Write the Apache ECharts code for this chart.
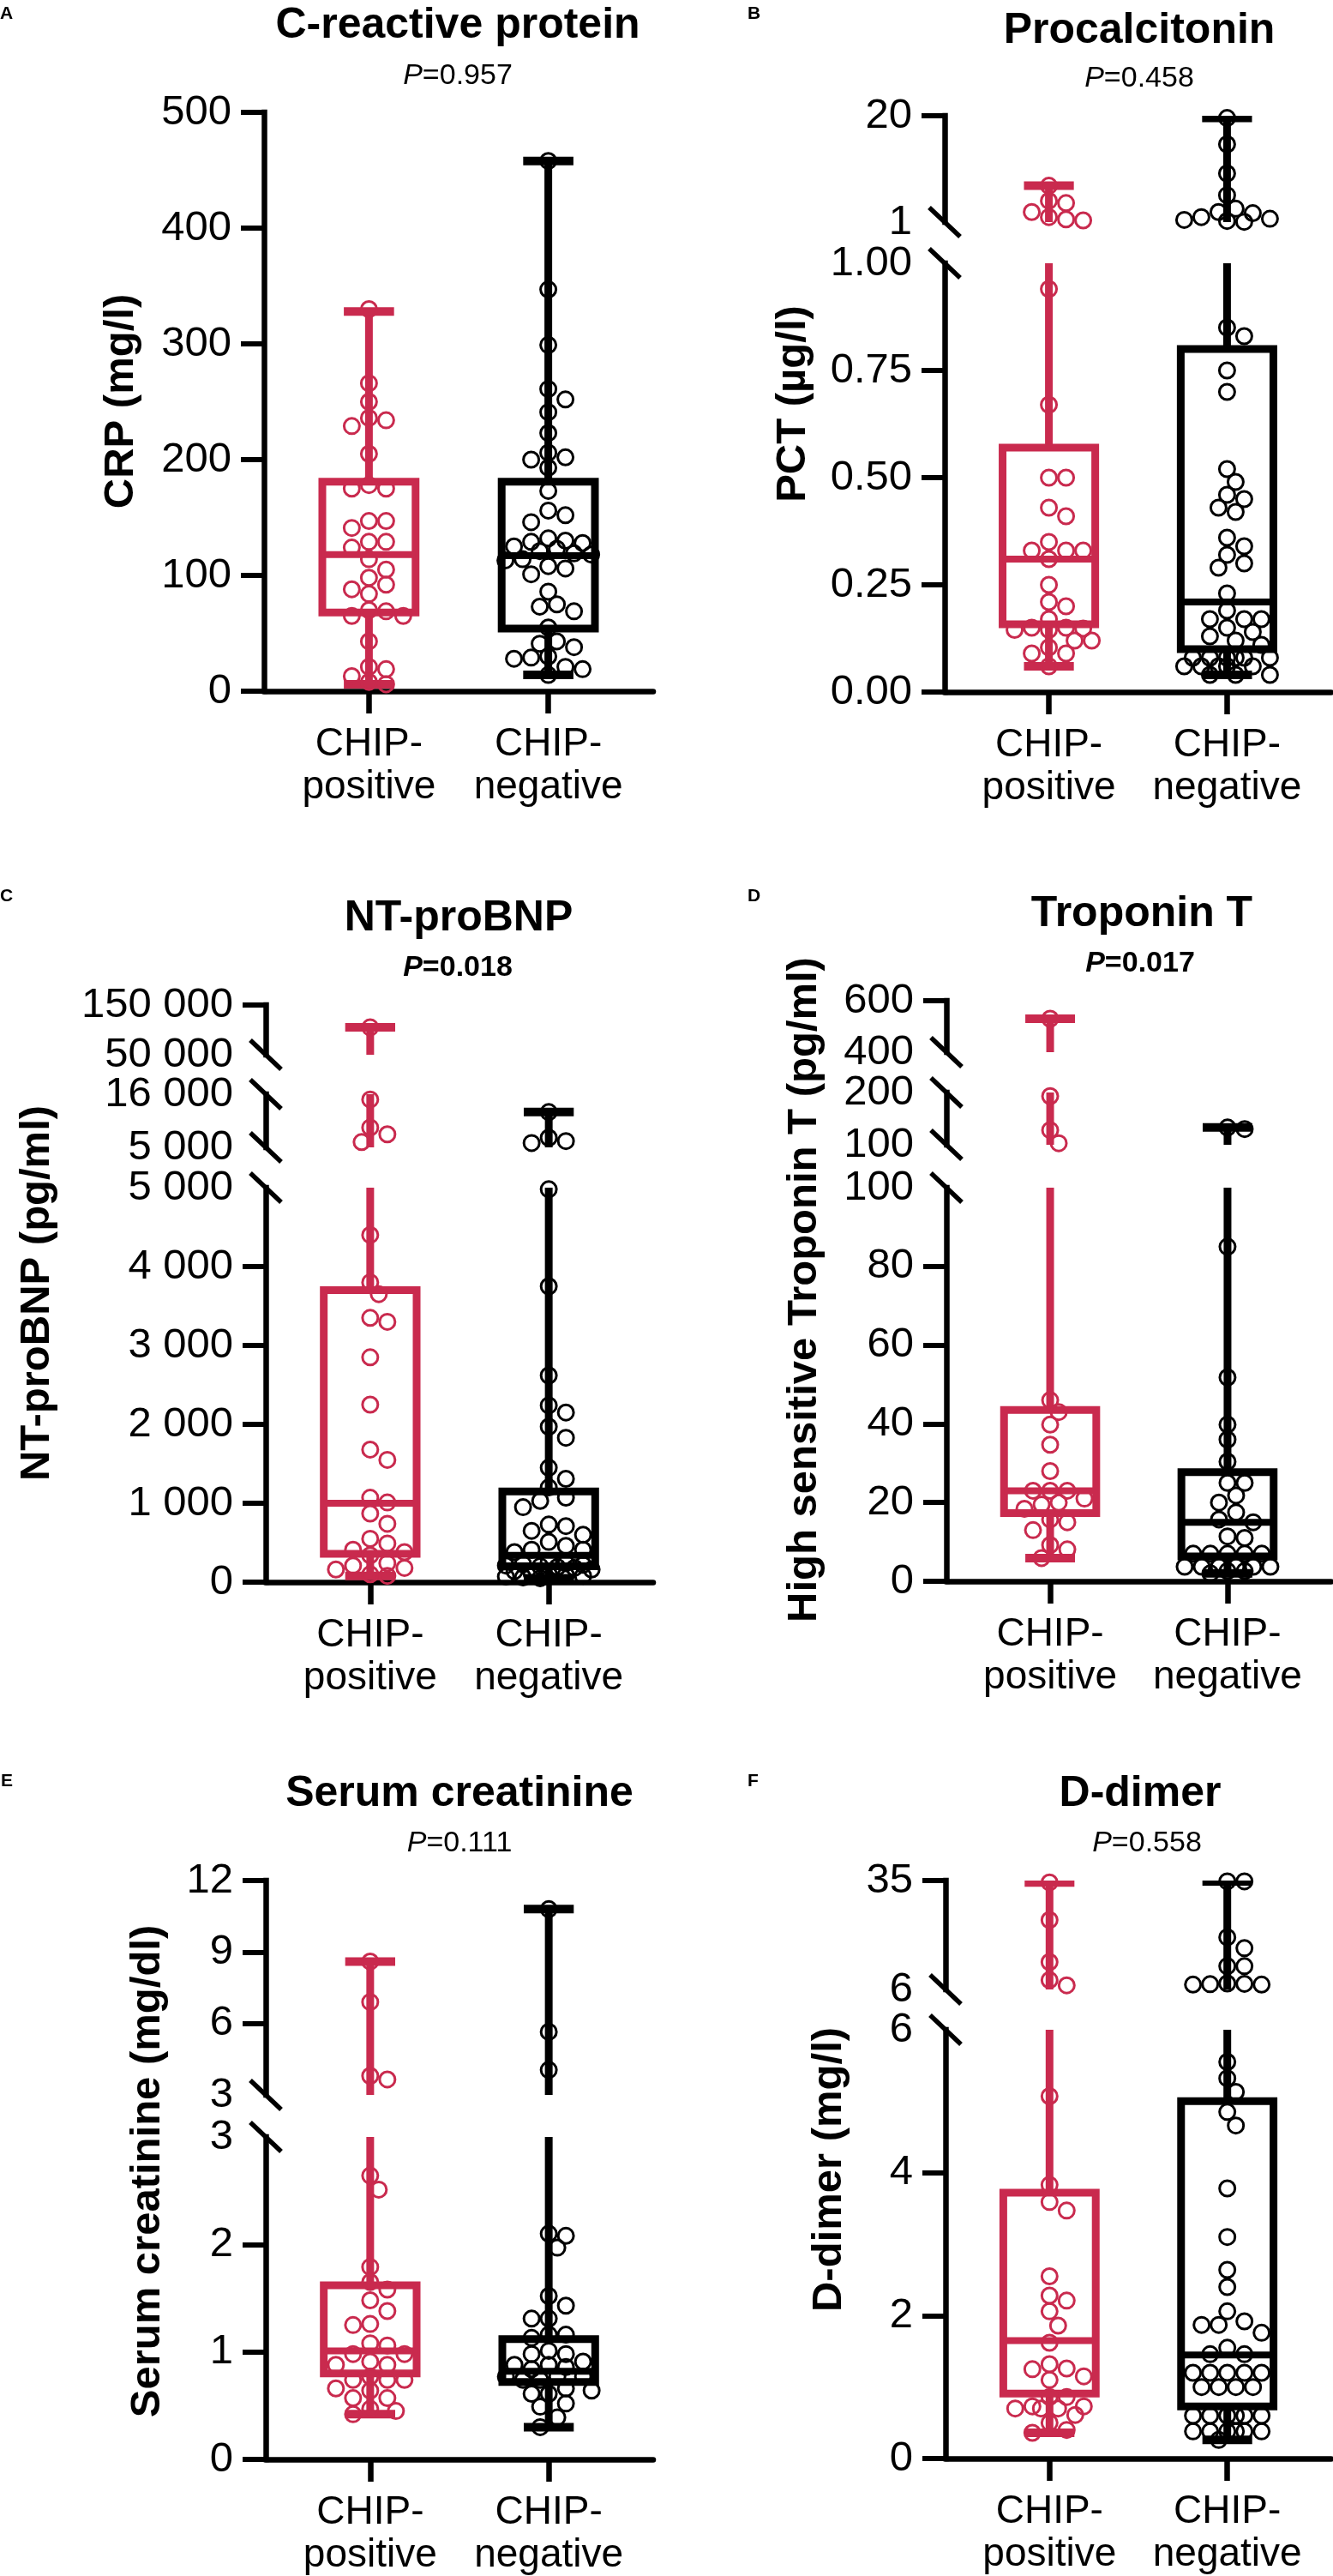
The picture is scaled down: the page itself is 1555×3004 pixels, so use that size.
<!DOCTYPE html>
<html>
<head>
<meta charset="utf-8">
<script src="https://cdn.jsdelivr.net/npm/echarts@6/dist/echarts.min.js"></script>
<style>
  html, body { margin: 0; padding: 0; background: #fff; }
  #chart { width: 1555px; height: 3004px; }
</style>
</head>
<body>
<div id="chart"></div>
<script>
var groupNames = ['CHIP-\npositive', 'CHIP-\nnegative'];
var groupColors = ['#C92A4E', '#000000'];

// A: C-reactive protein (mg/l)
var crpPositive = [330, 266, 250, 236, 234, 229, 205, 178, 175, 175, 147, 147, 141, 129, 129, 124, 114, 105, 98, 92, 88, 84, 70, 69, 65, 65, 43, 21, 19, 13, 8, 6];
var crpNegative = [458, 347, 299, 261, 252, 241, 223, 206, 202, 200, 193, 173, 156, 152, 146, 132, 130, 129, 128, 125, 123, 121, 119, 118, 114, 113, 108, 106, 101, 86, 75, 73, 69, 55, 43, 41, 38, 30, 29, 28, 21, 19, 14];
var crpPositiveBox = [6, 68, 118, 181, 328];   // min, Q1, median, Q3, max
var crpNegativeBox = [14, 54, 117, 181, 458];
var crpSegments = [
  { min: 0, max: 500, labels: [0, 100, 200, 300, 400, 500], ticks: [0, 100, 200, 300, 400, 500] }
];

// B: Procalcitonin (µg/l)
var pctPositive = [7.5, 4.8, 4.4, 2.8, 1.9, 1.5, 1.3, 0.94, 0.67, 0.50, 0.50, 0.43, 0.41, 0.35, 0.33, 0.33, 0.33, 0.31, 0.25, 0.21, 0.20, 0.17, 0.15, 0.15, 0.148, 0.145, 0.145, 0.12, 0.12, 0.104, 0.09, 0.09, 0.06];
var pctNegative = [19.6, 14.9, 9.7, 5.8, 3.4, 2.8, 2.6, 1.9, 1.6, 1.4, 1.2, 1.05, 0.85, 0.83, 0.75, 0.70, 0.52, 0.49, 0.46, 0.45, 0.43, 0.42, 0.36, 0.34, 0.32, 0.30, 0.29, 0.23, 0.19, 0.17, 0.17, 0.17, 0.15, 0.14, 0.13, 0.12, 0.11, 0.08, 0.08, 0.08, 0.08, 0.08, 0.08, 0.06, 0.06, 0.06, 0.06, 0.06, 0.04, 0.04, 0.04];
var pctPositiveBox = [0.06, 0.158, 0.31, 0.57, 7.5];
var pctNegativeBox = [0.04, 0.10, 0.21, 0.80, 19.6];
var pctSegments = [
  { min: 0, max: 1, labels: [0, 0.25, 0.5, 0.75, 1], ticks: [0, 0.25, 0.5, 0.75], decimals: 2 },
  { min: 1, max: 20, labels: [1, 20], ticks: [20] }
];

// C: NT-proBNP (pg/ml)
var bnpPositive = [105000, 14900, 9100, 7700, 6100, 4400, 3800, 3650, 3350, 3300, 2850, 2250, 1680, 1550, 1070, 1010, 870, 740, 550, 490, 410, 380, 340, 240, 210, 180, 160, 100, 80];
var bnpNegative = [12300, 7000, 6300, 5900, 4980, 3750, 2620, 2240, 2150, 1970, 1830, 1450, 1310, 1200, 1070, 1030, 950, 730, 710, 650, 600, 510, 460, 410, 410, 380, 260, 240, 230, 220, 210, 200, 190, 180, 160, 140, 110, 100, 90, 80, 70, 60, 50];
var bnpPositiveBox = [80, 360, 1000, 3700, 105000];
var bnpNegativeBox = [50, 200, 340, 1150, 12300];
var bnpSegments = [
  { min: 0, max: 5000, labels: [0, 1000, 2000, 3000, 4000, 5000], ticks: [0, 1000, 2000, 3000, 4000], spaced: true },
  { min: 5000, max: 16000, labels: [5000, 16000], ticks: [], spaced: true },
  { min: 50000, max: 150000, labels: [50000, 150000], ticks: [150000], spaced: true }
];

// D: High sensitive Troponin T (pg/ml)
var tropPositive = [530, 193, 128, 103, 46, 43, 39.8, 34.7, 28, 23, 23, 23, 21, 20, 19.5, 18.4, 15.7, 15, 13, 9.2, 8.1, 5.9];
var tropNegative = [133, 130, 85, 51.8, 39.8, 36, 30.4, 25, 25, 21.8, 20, 17.5, 15.7, 15, 11.4, 11, 7, 7, 7, 7, 7, 3.7, 3.7, 3.7, 3.7, 3.7, 3.7, 2.6, 2.6, 2];
var tropPositiveBox = [5.9, 17.3, 23, 43.5, 530];
var tropNegativeBox = [2, 6.3, 15, 27.7, 133];
var tropSegments = [
  { min: 0, max: 100, labels: [0, 20, 40, 60, 80, 100], ticks: [0, 20, 40, 60, 80] },
  { min: 100, max: 200, labels: [100, 200], ticks: [] },
  { min: 400, max: 600, labels: [400, 600], ticks: [600] }
];

// E: Serum creatinine (mg/dl)
var creaPositive = [8.6, 6.9, 3.8, 3.65, 2.64, 2.51, 1.79, 1.65, 1.58, 1.48, 1.38, 1.26, 1.25, 1.08, 1.06, 0.98, 0.98, 0.91, 0.88, 0.88, 0.77, 0.74, 0.74, 0.74, 0.66, 0.64, 0.57, 0.57, 0.47, 0.45, 0.42];
var creaNegative = [10.8, 5.65, 4.05, 2.10, 2.08, 1.97, 1.52, 1.43, 1.31, 1.31, 1.16, 1.16, 1.13, 1.01, 0.98, 0.98, 0.91, 0.88, 0.88, 0.86, 0.84, 0.77, 0.77, 0.77, 0.74, 0.74, 0.66, 0.64, 0.61, 0.61, 0.52, 0.49, 0.39, 0.30];
var creaPositiveBox = [0.42, 0.80, 1.01, 1.62, 8.6];
var creaNegativeBox = [0.30, 0.72, 0.82, 1.12, 10.8];
var creaSegments = [
  { min: 0, max: 3, labels: [0, 1, 2, 3], ticks: [0, 1, 2] },
  { min: 3, max: 12, labels: [3, 6, 9, 12], ticks: [6, 9, 12] }
];

// F: D-dimer (mg/l)
var ddimPositive = [34.5, 24.5, 13.3, 8.5, 7.1, 5.07, 3.83, 3.59, 3.47, 2.55, 2.28, 2.21, 2.06, 1.86, 1.62, 1.32, 1.26, 1.25, 1.15, 1.10, 0.86, 0.86, 0.73, 0.73, 0.70, 0.70, 0.70, 0.61, 0.50, 0.40, 0.36];
var ddimNegative = [34.8, 34.8, 19.9, 17.0, 12.2, 12.2, 7.6, 7.5, 7.4, 7.3, 7.3, 5.55, 5.32, 5.13, 4.85, 4.66, 3.78, 3.10, 2.64, 2.40, 2.06, 1.92, 1.87, 1.87, 1.76, 1.55, 1.46, 1.46, 1.2, 1.2, 1.2, 1.2, 1.2, 1.0, 1.0, 1.0, 1.0, 0.6, 0.6, 0.6, 0.6, 0.6, 0.6, 0.38, 0.38, 0.38, 0.38, 0.38, 0.38, 0.26];
var ddimPositiveBox = [0.36, 0.91, 1.65, 3.72, 34.5];
var ddimNegativeBox = [0.26, 0.73, 1.45, 5.0, 34.8];
var ddimSegments = [
  { min: 0, max: 6, labels: [0, 2, 4, 6], ticks: [0, 2, 4] },
  { min: 6, max: 35, labels: [6, 35], ticks: [35] }
];

var panels = [
  { id: 'A', title: 'C-reactive protein', pValue: '0.957', pBold: false, yName: 'CRP (mg/l)',
    positive: crpPositive, negative: crpNegative, positiveBox: crpPositiveBox, negativeBox: crpNegativeBox, segments: crpSegments },
  { id: 'B', title: 'Procalcitonin', pValue: '0.458', pBold: false, yName: 'PCT (µg/l)',
    positive: pctPositive, negative: pctNegative, positiveBox: pctPositiveBox, negativeBox: pctNegativeBox, segments: pctSegments },
  { id: 'C', title: 'NT-proBNP', pValue: '0.018', pBold: true, yName: 'NT-proBNP (pg/ml)',
    positive: bnpPositive, negative: bnpNegative, positiveBox: bnpPositiveBox, negativeBox: bnpNegativeBox, segments: bnpSegments },
  { id: 'D', title: 'Troponin T', pValue: '0.017', pBold: true, yName: 'High sensitive Troponin T (pg/ml)',
    positive: tropPositive, negative: tropNegative, positiveBox: tropPositiveBox, negativeBox: tropNegativeBox, segments: tropSegments },
  { id: 'E', title: 'Serum creatinine', pValue: '0.111', pBold: false, yName: 'Serum creatinine (mg/dl)',
    positive: creaPositive, negative: creaNegative, positiveBox: creaPositiveBox, negativeBox: creaNegativeBox, segments: creaSegments },
  { id: 'F', title: 'D-dimer', pValue: '0.558', pBold: false, yName: 'D-dimer (mg/l)',
    positive: ddimPositive, negative: ddimNegative, positiveBox: ddimPositiveBox, negativeBox: ddimNegativeBox, segments: ddimSegments }
];

// page layout in px: segs are [top, bottom] of each axis piece, lowest piece first
var layout = {
  A: { left: 308, right: 762, segs: [[131, 806]], letter: [0, 16], title: [534, 30], p: [534, 89], yName: [141, 468] },
  B: { left: 1102, right: 1553, segs: [[307, 807], [135, 259]], letter: [872, 16], title: [1329, 36], p: [1329, 92], yName: [925, 471] },
  C: { left: 310, right: 762, segs: [[1385, 1845], [1276, 1338], [1172, 1230]], letter: [0, 1045], title: [535, 1071], p: [534, 1129], yName: [43, 1508] },
  D: { left: 1104, right: 1553, segs: [[1385, 1844], [1274, 1335], [1167, 1227]], letter: [872, 1045], title: [1332, 1066], p: [1330, 1124], yName: [938, 1504] },
  E: { left: 310, right: 762, segs: [[2492, 2868], [2193, 2443]], letter: [1, 2077], title: [536, 2092], p: [536, 2150], yName: [172, 2532] },
  F: { left: 1103, right: 1553, segs: [[2367, 2867], [2193, 2320]], letter: [872, 2077], title: [1330, 2092], p: [1338, 2150], yName: [967, 2530] }
};

var FONT = "'Liberation Sans', Arial, Helvetica, sans-serif";
var X_MIN = -0.585, X_MAX = 1.585;
var BOX_WIDTH = 0.52, CAP_WIDTH = 0.28;

function spaced(v) {
  return String(v).replace(/\B(?=(\d{3})+(?!\d))/g, ' ');
}

function segmentOf(v, segments) {
  for (var j = 0; j < segments.length; j++) {
    if (v <= segments[j].max) return j;
  }
  return segments.length - 1;
}

function pixelY(v, segments, segPx) {
  var j = segmentOf(v, segments);
  var s = segments[j], px = segPx[j];
  return px[1] - (v - s.min) / (s.max - s.min) * (px[1] - px[0]);
}

// simple beeswarm: put each point at the free slot nearest the centre line
function swarmOffsets(values, toPx) {
  var minDist = 17, step = 10, maxOff = 56;
  var order = values.map(function (v, i) { return i; });
  order.sort(function (a, b) { return values[b] - values[a]; });
  var placed = [], offsets = [];
  order.forEach(function (i) {
    var y = toPx(values[i]);
    var best = 0, bestDist = -1;
    for (var k = 0; ; k++) {
      var dx = (k % 2 === 1 ? 1 : -1) * Math.ceil(k / 2) * step;
      if (Math.abs(dx) > maxOff) break;
      var d = Infinity;
      placed.forEach(function (p) {
        var ex = p[0] - dx, ey = p[1] - y;
        d = Math.min(d, Math.sqrt(ex * ex + ey * ey));
      });
      if (d >= minDist) { best = dx; bestDist = d; break; }
      if (d > bestDist) { best = dx; bestDist = d; }
    }
    placed.push([best, y]);
    offsets[i] = best;
  });
  return offsets;
}

// box + whiskers for one axis piece; parts outside the piece's range are left out
function makeBoxRenderer(seg) {
  var inside = function (v) { return v >= seg.min && v <= seg.max; };
  var clampV = function (v) { return Math.max(seg.min, Math.min(seg.max, v)); };
  return function (params, api) {
    var x = api.value(0);
    var color = groupColors[x];
    var vMin = api.value(1), q1 = api.value(2), med = api.value(3), q3 = api.value(4), vMax = api.value(5);
    var y = function (v) { return api.coord([x, v])[1]; };
    var xc = api.coord([x, clampV(med)])[0];
    var halfBox = api.size([BOX_WIDTH, 0])[0] / 2;
    var halfCap = api.size([CAP_WIDTH, 0])[0] / 2;
    var line = function (x1, y1, x2, y2, w) {
      return { type: 'line', shape: { x1: x1, y1: y1, x2: x2, y2: y2 }, style: { stroke: color, lineWidth: w } };
    };
    var children = [];
    if (q1 >= seg.min && vMin <= seg.max) children.push(line(xc, y(clampV(vMin)), xc, y(clampV(q1)), 9));
    if (vMax >= seg.min && q3 <= seg.max) children.push(line(xc, y(clampV(q3)), xc, y(clampV(vMax)), 9));
    if (inside(vMin)) children.push(line(xc - halfCap, y(vMin), xc + halfCap, y(vMin), 10));
    if (inside(vMax)) children.push(line(xc - halfCap, y(vMax), xc + halfCap, y(vMax), 10));
    if (inside(q1) && inside(q3)) {
      children.push({ type: 'rect', shape: { x: xc - halfBox, y: y(q3), width: halfBox * 2, height: y(q1) - y(q3) },
        style: { fill: 'none', stroke: color, lineWidth: 9 } });
    } else if (q3 >= seg.min && q1 <= seg.max) {
      children.push(line(xc - halfBox, y(clampV(q1)), xc - halfBox, y(clampV(q3)), 9));
      children.push(line(xc + halfBox, y(clampV(q1)), xc + halfBox, y(clampV(q3)), 9));
      if (inside(q1)) children.push(line(xc - halfBox, y(q1), xc + halfBox, y(q1), 9));
      if (inside(q3)) children.push(line(xc - halfBox, y(q3), xc + halfBox, y(q3), 9));
    }
    if (inside(med)) children.push(line(xc - halfBox, y(med), xc + halfBox, y(med), 8));
    return { type: 'group', children: children };
  };
}

var grids = [], xAxes = [], yAxes = [], series = [], graphics = [];

panels.forEach(function (panel) {
  var L = layout[panel.id];
  var segs = panel.segments;
  var unitPx = (L.right - L.left) / (X_MAX - X_MIN);
  var toPx = function (v) { return pixelY(v, segs, L.segs); };
  var groupsData = [panel.positive, panel.negative].map(function (vals) {
    var off = swarmOffsets(vals, toPx);
    return vals.map(function (v, i) { return { v: v, x: off[i] / unitPx, seg: segmentOf(v, segs) }; });
  });

  segs.forEach(function (s, j) {
    var g = grids.length;
    var px = L.segs[j];
    grids.push({ left: L.left, top: px[0], width: L.right - L.left, height: px[1] - px[0],
      containLabel: false, outerBoundsMode: 'none' });
    xAxes.push({
      type: 'value', gridIndex: g, min: X_MIN, max: X_MAX, show: j === 0,
      axisLine: { show: true, onZero: false, lineStyle: { color: '#000', width: 6.5 } },
      axisTick: { show: true, customValues: [0, 1], length: 26, lineStyle: { color: '#000', width: 6.5 } },
      axisLabel: { customValues: [0, 1], formatter: function (v) { return groupNames[Math.round(v)]; },
        fontSize: 46, lineHeight: 50, color: '#000', fontFamily: FONT, margin: 37, hideOverlap: false },
      splitLine: { show: false }
    });
    yAxes.push({
      type: 'value', gridIndex: g, min: s.min, max: s.max,
      axisLine: { show: true, onZero: false, lineStyle: { color: '#000', width: 6.5, cap: 'square' } },
      axisTick: { show: s.ticks.length > 0, customValues: s.ticks, length: 27, lineStyle: { color: '#000', width: 6 } },
      axisLabel: {
        customValues: s.labels, fontSize: 49, color: '#000', fontFamily: FONT, margin: 38,
        showMinLabel: true, showMaxLabel: true, hideOverlap: false,
        formatter: function (v) {
          if (s.decimals) return Number(v).toFixed(s.decimals);
          return s.spaced ? spaced(v) : String(v);
        }
      },
      splitLine: { show: false }
    });
    series.push({
      type: 'custom', xAxisIndex: g, yAxisIndex: g, clip: true, silent: true, z: 2,
      renderItem: makeBoxRenderer(s),
      encode: { x: 0, y: [1, 2, 3, 4, 5] },
      data: [[0].concat(panel.positiveBox), [1].concat(panel.negativeBox)]
    });
    groupsData.forEach(function (pts, gi) {
      series.push({
        type: 'scatter', xAxisIndex: g, yAxisIndex: g, clip: false, silent: true, z: 3,
        symbol: 'circle', symbolSize: 18,
        itemStyle: { color: 'rgba(0,0,0,0)', borderColor: groupColors[gi], borderWidth: 3, opacity: 1 },
        data: pts.filter(function (p) { return p.seg === j; })
                 .map(function (p) { return [gi + p.x, p.v]; })
      });
    });

    // break marks where this piece meets the next one up
    if (j < segs.length - 1) {
      [px[0], L.segs[j + 1][1]].forEach(function (yb) {
        graphics.push({ type: 'line', silent: true,
          shape: { x1: L.left - 18, y1: yb - 17, x2: L.left + 18, y2: yb + 17 },
          style: { stroke: '#000', lineWidth: 5.5 } });
      });
    }
  });

  graphics.push({ type: 'text', x: L.letter[0], y: L.letter[1],
    style: { text: panel.id, fontSize: 21, fontWeight: 'bold', fontFamily: FONT, fill: '#000',
      align: 'left', verticalAlign: 'middle' } });
  graphics.push({ type: 'text', x: L.title[0], y: L.title[1],
    style: { text: panel.title, fontSize: 50, fontWeight: 'bold', fontFamily: FONT, fill: '#000',
      align: 'center', verticalAlign: 'middle' } });
  var pWeight = panel.pBold ? 'bold' : 'normal';
  graphics.push({ type: 'text', x: L.p[0], y: L.p[1],
    style: { text: '{i|P}=' + panel.pValue, fontSize: 34, fontWeight: pWeight, fontFamily: FONT, fill: '#000',
      align: 'center', verticalAlign: 'middle',
      rich: { i: { fontStyle: 'italic', fontSize: 34, fontWeight: pWeight, fontFamily: FONT, fill: '#000' } } } });
  graphics.push({ type: 'text', x: L.yName[0], y: L.yName[1], rotation: Math.PI / 2,
    style: { text: panel.yName, fontSize: 49, fontWeight: 'bold', fontFamily: FONT, fill: '#000',
      align: 'center', verticalAlign: 'middle' } });
});

var chart = echarts.init(document.getElementById('chart'), null, { renderer: 'canvas' });
chart.setOption({
  backgroundColor: '#ffffff',
  animation: false,
  grid: grids,
  xAxis: xAxes,
  yAxis: yAxes,
  series: series,
  graphic: graphics
});
</script>
</body>
</html>
